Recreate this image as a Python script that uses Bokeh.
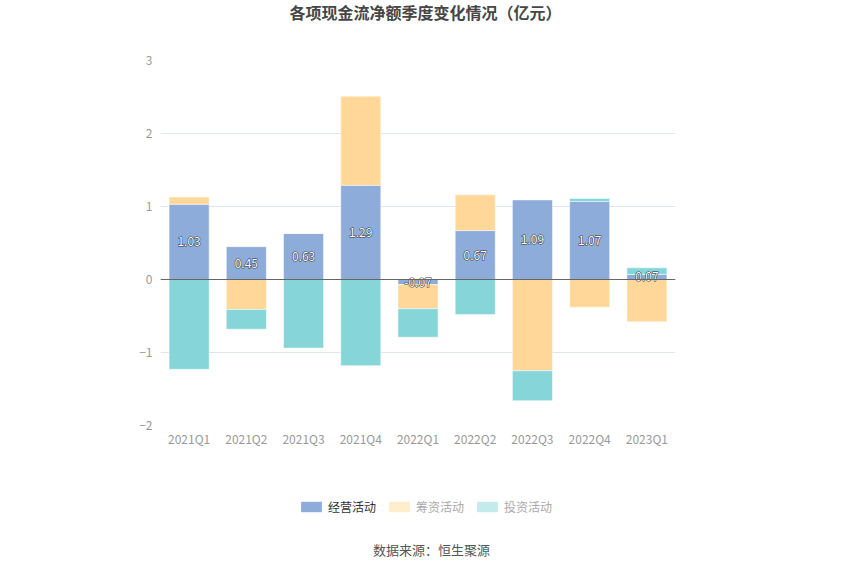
from bokeh.plotting import figure
from bokeh.layouts import column
from bokeh.models import ColumnDataSource, Label, Legend, LegendItem, Span, FactorRange, Range1d, FixedTicker
from bokeh.core.properties import value
from bokeh.embed import file_html
from bokeh.resources import INLINE

quarters = ["2021Q1", "2021Q2", "2021Q3", "2021Q4", "2022Q1", "2022Q2", "2022Q3", "2022Q4", "2023Q1"]
operating = [1.03, 0.45, 0.63, 1.29, -0.07, 0.67, 1.09, 1.07, 0.07]
financing = [0.10, -0.41, 0.00, 1.22, -0.33, 0.49, -1.25, -0.38, -0.58]
investing = [-1.23, -0.27, -0.94, -1.18, -0.39, -0.48, -0.41, 0.04, 0.09]
series_names = ["经营活动", "筹资活动", "投资活动"]
colors = ["#8eacda", "#ffd899", "#86d5d8"]
legend_colors = ["#8eacda", "#ffedcc", "#c3ebec"]
legend_text_colors = ["#333333", "#aaaaaa", "#aaaaaa"]
y_ticks = [-2, -1, 0, 1, 2, 3]

FONT = "Noto Sans CJK SC"
W = 834
BL, BR = 160, 159
FW = W - BL - BR


def blank_fig(h):
    f = figure(width=W, height=h, x_range=Range1d(0, FW), y_range=Range1d(0, h),
               output_backend="svg", toolbar_location=None, x_axis_type=None, y_axis_type=None,
               min_border_left=BL, min_border_right=BR, min_border_top=0, min_border_bottom=0)
    f.outline_line_color = None
    f.xgrid.visible = False
    f.ygrid.visible = False
    return f


# ---- title figure
top = blank_fig(30)
top.add_layout(Label(x=265, y=19, x_units="screen", y_units="screen",
                     text="各项现金流净额季度变化情况（亿元）",
                     text_align="center", text_baseline="middle", text_font=FONT,
                     text_font_size="16px", text_font_style="bold", text_color="#464646"))

# ---- main chart
p = figure(x_range=FactorRange(*quarters), y_range=Range1d(-2, 3), width=W, height=430,
           output_backend="svg", toolbar_location=None,
           min_border_left=BL, min_border_right=BR, min_border_top=30, min_border_bottom=35)
p.outline_line_color = None

n = len(quarters)
pos = [0.0] * n
neg = [0.0] * n
stacks = []
for vals in (operating, financing, investing):
    bottoms, tops = [], []
    for i, v in enumerate(vals):
        if v >= 0:
            b = pos[i]; t = pos[i] + v; pos[i] = t
        else:
            t = neg[i]; b = neg[i] + v; neg[i] = b
        bottoms.append(b); tops.append(t)
    stacks.append((bottoms, tops))

for (bottoms, tops), c in zip(stacks, colors):
    src = ColumnDataSource(dict(x=quarters, bottom=bottoms, top=tops))
    p.vbar(x="x", bottom="bottom", top="top", width=0.7, source=src,
           fill_color=c, line_color="white", line_width=0.5)

p.add_layout(Span(location=0, dimension="width", line_color="#666666", line_width=1))

ob, ot = stacks[0]
lab_src = ColumnDataSource(dict(x=quarters, y=[(b + t) / 2 for b, t in zip(ob, ot)],
                                t=["%.2f" % v for v in operating]))
p.text(x="x", y="y", text="t", source=lab_src, text_align="center", text_baseline="middle",
       text_color="#333333", text_font=value(FONT), text_font_size="12px",
       text_outline_color="#333333")
p.text(x="x", y="y", text="t", source=lab_src, text_align="center", text_baseline="middle",
       text_color="white", text_font=value(FONT), text_font_size="12px")

p.yaxis.ticker = FixedTicker(ticks=y_ticks)
p.yaxis.axis_line_color = None
p.yaxis.major_tick_line_color = None
p.yaxis.minor_tick_line_color = None
p.yaxis.major_label_text_color = "#999999"
p.yaxis.major_label_text_font = FONT
p.yaxis.major_label_text_font_size = "12px"
p.yaxis.major_label_standoff = 2

p.xaxis.axis_line_color = None
p.xaxis.major_tick_line_color = None
p.xaxis.minor_tick_line_color = None
p.xaxis.major_label_text_color = "#999999"
p.xaxis.major_label_text_font = FONT
p.xaxis.major_label_text_font_size = "12px"
p.xaxis.major_label_standoff = -2

p.xgrid.grid_line_color = None
p.ygrid.grid_line_color = "#e0e6f1"
p.ygrid.ticker = FixedTicker(ticks=y_ticks)

# ---- bottom: legend + source
bot = blank_fig(99)
leg_x = [138, 226, 314]
for name, lc, tc, lx in zip(series_names, legend_colors, legend_text_colors, leg_x):
    d = bot.vbar(x=[-1000], top=[-1000], bottom=[-1001], width=1, fill_color=lc, line_color=None)
    leg = Legend(items=[LegendItem(label=name, renderers=[d])], location=(lx, 44),
                 orientation="horizontal", glyph_width=26, glyph_height=13, label_height=13,
                 label_standoff=4, padding=0, margin=0, spacing=0,
                 border_line_color=None, background_fill_alpha=0,
                 label_text_font=FONT, label_text_font_size="12px", label_text_color=tc)
    bot.add_layout(leg, "center")
bot.add_layout(Label(x=271, y=10, x_units="screen", y_units="screen", text="数据来源：恒生聚源",
                     text_align="center", text_baseline="middle", text_font=FONT,
                     text_font_size="13px", text_color="#555555"))

layout = column(top, p, bot, spacing=0)
open("out.html", "w").write(file_html(layout, INLINE))
